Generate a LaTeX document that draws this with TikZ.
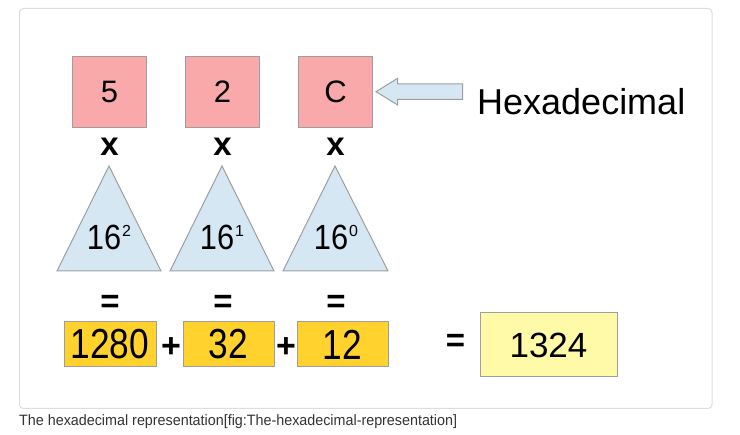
\documentclass[tikz,border=0pt]{standalone}
\usepackage{fontspec}
\usepackage{graphicx}
\setmainfont{Liberation Sans}
\definecolor{redbox}{HTML}{F9A9A9}
\definecolor{tribox}{HTML}{D6E7F4}
\definecolor{yelbox}{HTML}{FFD22E}
\definecolor{resbox}{HTML}{FFFAA8}
\definecolor{edge}{HTML}{9E9E9E}
\definecolor{framec}{HTML}{DDDDDD}
\definecolor{capc}{HTML}{333333}
\newcommand{\powsup}[1]{\raisebox{13pt}{\fontsize{16}{16}\selectfont #1}}
\begin{document}
\begin{tikzpicture}[x=1pt,y=-1pt,
  hexbox/.style={draw=edge,line width=1pt,fill=redbox,minimum width=74pt,minimum height=71pt,inner sep=0pt,font=\fontsize{31}{31}\selectfont},
  tri/.style={draw=edge,line width=1pt,fill=tribox,line join=miter},
  sumbox/.style={draw=edge,line width=1pt,fill=yelbox,minimum height=45pt,inner sep=0pt,font=\fontsize{42}{42}\selectfont},
  resultbox/.style={draw=edge,line width=1pt,fill=resbox,minimum width=137pt,minimum height=64pt,inner sep=0pt,font=\fontsize{35}{35}\selectfont},
  op/.style={inner sep=0pt,font=\fontsize{33}{33}\selectfont\bfseries},
  plus/.style={inner sep=0pt,font=\fontsize{34}{34}\selectfont\bfseries},
  blockarrow/.style={draw=edge,line width=1pt,fill=tribox,line join=miter}
]
\useasboundingbox (0,0) rectangle (740,435);
\draw[framec,line width=1pt,rounded corners=4pt] (19.5,8.5) rectangle (712,408.5);

% hex digits
\node[hexbox] (d5) at (109.5,91.7) {5};
\node[hexbox] (d2) at (222.5,91.7) {2};
\node[hexbox] (dC) at (335.5,91.7) {C};

% arrow and label
\coordinate (atip) at ([xshift=3pt]dC.east);
\draw[blockarrow] (atip) -- ++(21.7,-13.4) -- ++(0,5.7) -- ++(65,0) -- ++(0,15.3) -- ++(-65,0) -- ++(0,5.7) -- cycle;
\node[inner sep=0pt,font=\fontsize{36}{36}\selectfont,anchor=base west] (hex) at (477,115) {Hexadecimal};

% multiplication signs
\node[op] (x1) at (109.5,147) {x};
\node[op] (x2) at (222.5,147) {x};
\node[op] (x3) at (335.5,147) {x};

% triangles
\draw[tri] (57,271) -- (109,166) -- (161,271) -- cycle;
\draw[tri] (170,271) -- (222,166) -- (274,271) -- cycle;
\draw[tri] (283,271) -- (335,166) -- (388,271) -- cycle;
\node[inner sep=0pt,anchor=base] (p2) at (109,250) {\scalebox{0.88}[1]{\fontsize{35}{35}\selectfont 16}\hspace{1pt}\powsup{2}};
\node[inner sep=0pt,anchor=base] (p1) at (222,250) {\scalebox{0.88}[1]{\fontsize{35}{35}\selectfont 16}\hspace{1pt}\powsup{1}};
\node[inner sep=0pt,anchor=base] (p0) at (336,250) {\scalebox{0.88}[1]{\fontsize{35}{35}\selectfont 16}\hspace{1pt}\powsup{0}};

% equals
\node[op] (e1) at (110,304) {=};
\node[op] (e2) at (223,304) {=};
\node[op] (e3) at (336,304) {=};

% sums
\node[sumbox,minimum width=92pt] (s1) at (110,344.5) {\scalebox{0.84}[1]{1280}};
\node[sumbox,minimum width=91pt] (s2) at (228.5,344.5) {\scalebox{0.84}[1]{32}};
\node[sumbox,minimum width=91pt] (s3) at (342.5,344.5) {\scalebox{0.84}[1]{12}};
\node[plus] (pl1) at (171,348) {+};
\node[plus] (pl2) at (286,348) {+};
\node[op] (eq) at (455.5,343) {=};
\node[resultbox] (res) at (548.5,345) {1324};

% caption
\node[inner sep=0pt,anchor=base west,text=capc,font=\fontsize{15}{15}\selectfont] (cap) at (19,426) {\scalebox{0.955}[1]{The hexadecimal representation[fig:The-hexadecimal-representation]}};
\end{tikzpicture}
\end{document}
